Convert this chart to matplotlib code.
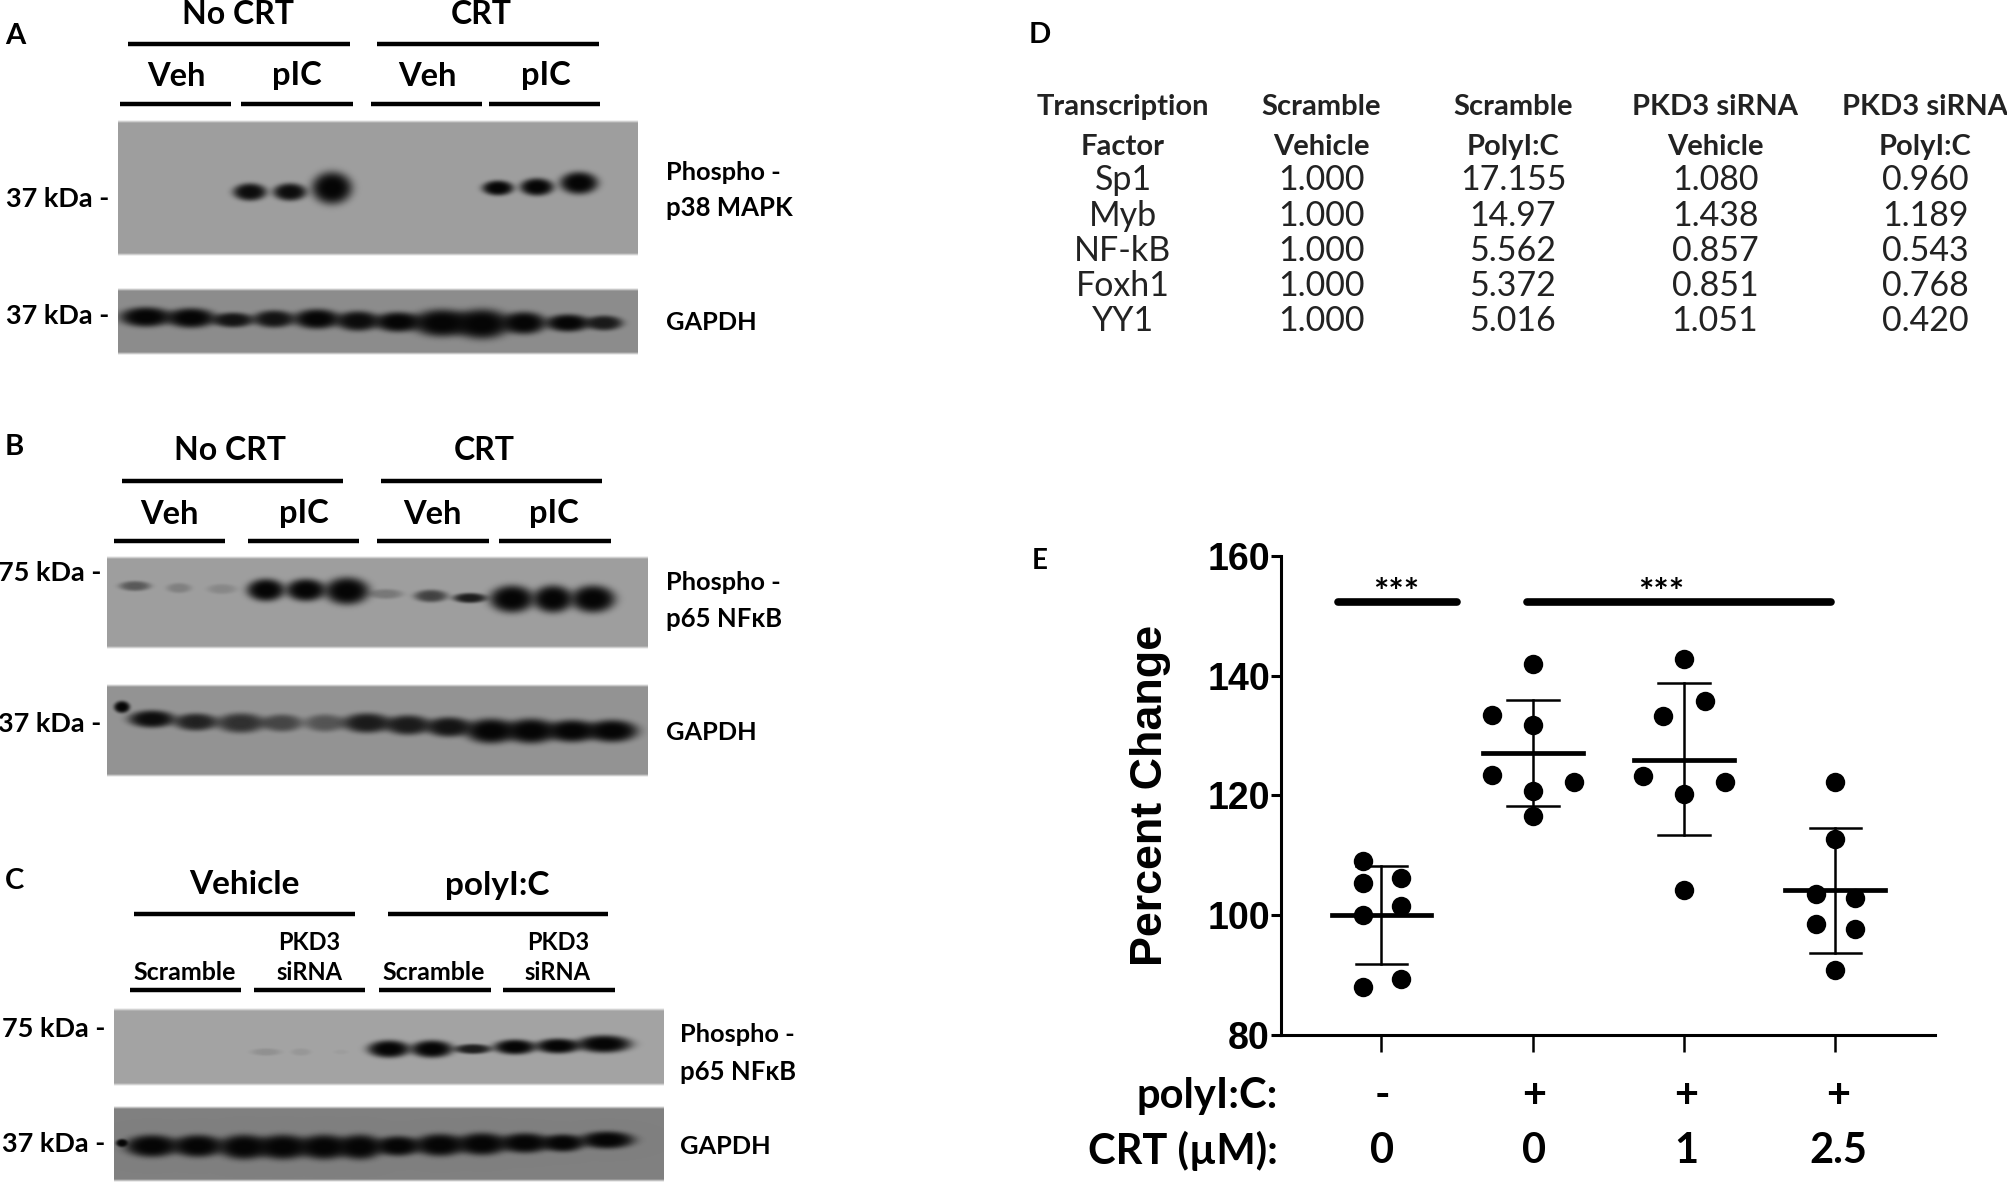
import numpy as np
import matplotlib
matplotlib.use("Agg")
import matplotlib.pyplot as plt

# Band strength per lane (0 = no band, 1 = saturated)
a_p38 = [0.95, 0.95, 1, 1, 1, 1]
a_gapdh = [1, 1, 0.9, 0.9, 1, 0.95, 1, 1, 1, 1, 1, 0.85]
b_p65 = [0.45, 0.2, 0.15, 1, 1, 1, 0.25, 0.6, 0.85, 1, 1, 1]
b_gapdh = [0.95, 0.8, 0.7, 0.55, 0.45, 0.85, 0.85, 0.9, 1, 1, 1, 1]
c_p65 = [0.12, 0.08, 0.04, 1, 1, 0.85, 1, 1, 1]
c_gapdh = [1, 1, 1, 1, 1, 1, 1, 1, 1, 1, 1, 1]

# Table in panel D
table_head1 = ["Transcription", "Scramble", "Scramble", "PKD3 siRNA", "PKD3 siRNA"]
table_head2 = ["Factor", "Vehicle", "PolyI:C", "Vehicle", "PolyI:C"]
factors = ["Sp1", "Myb", "NF-kB", "Foxh1", "YY1"]
scr_veh = ["1.000", "1.000", "1.000", "1.000", "1.000"]
scr_pic = ["17.155", "14.97", "5.562", "5.372", "5.016"]
pkd_veh = ["1.080", "1.438", "0.857", "0.851", "1.051"]
pkd_pic = ["0.960", "1.189", "0.543", "0.768", "0.420"]

# Scatter in panel E
g0_vals = [109, 105.4, 106.3, 101.6, 100, 89.4, 88]
g1_vals = [141.9, 133.4, 131.7, 123.5, 122.3, 120.7, 116.6]
g2_vals = [142.8, 135.8, 133.2, 123.3, 122.3, 120.3, 104.2]
g3_vals = [122.3, 112.7, 103.6, 102.9, 98.6, 97.7, 90.8]
means = [100, 127.1, 126, 104.2]
err_hi = [108.2, 136, 138.8, 114.6]
err_lo = [91.8, 118.3, 113.4, 93.7]
polyic_labels = ["-", "+", "+", "+"]
crt_labels = ["0", "0", "1", "2.5"]

# Sideways spread of the dots in each group
g0_off = [-0.12, -0.12, 0.13, 0.13, -0.12, 0.13, -0.12]
g1_off = [0, -0.27, 0, -0.27, 0.27, 0, 0]
g2_off = [0, 0.137, -0.137, -0.27, 0.27, 0, 0]
g3_off = [0, 0, -0.13, 0.13, -0.13, 0.13, 0]

W, H = 2008, 1184
TXT = ["Lato", "DejaVu Sans"]
ARIAL = ["Liberation Sans", "DejaVu Sans"]

fig = plt.figure(figsize=(W / 100, H / 100), dpi=100)
page = fig.add_axes([0, 0, 1, 1])
page.set_xlim(0, W)
page.set_ylim(H, 0)
page.axis("off")


def label(x, y, s, size=21, ha="center", weight="bold", family=TXT, color="black"):
    page.text(x, y + 2, s, fontsize=size, ha=ha, va="center", fontweight=weight,
              family=family, color=color)


def rule(x0, x1, y, lw=3.2):
    page.plot([x0, x1], [y, y], color="black", lw=lw, solid_capstyle="butt")


def blot(x0, x1, y0, y1, bg, strength, cx, cy, hw, hh, spot=None, wide=1.12):
    # Film strip drawn as an image, soft bands on a flat grey
    xx, yy = np.meshgrid(np.arange(x0, x1) + 0.5, np.arange(y0, y1) + 0.5)
    clear = np.ones_like(xx)
    for s, a, b, w, h in zip(strength, cx, cy, hw, hh):
        r = ((xx - a) / (w * wide)) ** 2 + ((yy - b) / (h * 1.25)) ** 2
        clear *= 1 - s * np.exp(-r ** 2)
    if spot:
        r = ((xx - spot[0]) / spot[2]) ** 2 + ((yy - spot[1]) / spot[3]) ** 2
        clear *= 1 - np.exp(-r ** 2)
    img = 0.02 + (bg - 0.02) * clear
    # the strips fade to white along the top and bottom edges
    edge = np.minimum(yy - y0, y1 - yy) / 3.0
    img = img + (1 - img) * (1 - np.clip(edge, 0, 1))
    page.imshow(img, extent=[x0, x1, y1, y0], cmap="gray", vmin=0, vmax=1,
                aspect="auto", interpolation="bilinear", zorder=1)


# Panel A
label(5, 34, "A", 21, ha="left")
label(238, 12, "No CRT", 23)
label(481, 12, "CRT", 23)
rule(128, 350, 44)
rule(377, 599, 44)
for x, s in zip([176, 297, 427, 546], ["Veh", "pIC", "Veh", "pIC"]):
    label(x, 74, s, 23.5)
for x0, x1 in [(120, 231), (241, 353), (371, 482), (489, 600)]:
    rule(x0, x1, 104)
blot(118, 638, 120, 256, 0.62, a_p38,
     [250, 290, 332, 498, 537, 579], [192, 192, 188, 188, 187, 183],
     [15, 15, 18, 14, 15, 17], [7, 7, 13, 6, 7, 9])
blot(118, 638, 288, 355, 0.55, a_gapdh,
     [146, 191, 233, 274, 317, 358, 398, 442, 482, 524, 568, 604],
     [317, 318, 320, 319, 319, 321, 322, 323, 324, 323, 323, 323],
     [21, 20, 17, 17, 19, 18, 19, 24, 23, 18, 18, 15],
     [8, 8, 6, 7, 8, 8, 8, 11, 12, 9, 7, 6], wide=1.25)
label(109, 197, "37 kDa -", 19.5, ha="right")
label(109, 314, "37 kDa -", 19.5, ha="right")
label(666, 171, "Phospho -", 18.3, ha="left")
label(666, 206, "p38 MAPK", 18.5, ha="left")
label(666, 321, "GAPDH", 18.3, ha="left")

# Panel B
label(5, 445, "B", 21, ha="left")
label(230, 449, "No CRT", 23)
label(484, 449, "CRT", 23)
rule(122, 343, 481)
rule(381, 602, 481)
for x, s in zip([169, 304, 432, 554], ["Veh", "pIC", "Veh", "pIC"]):
    label(x, 512, s, 23.5)
for x0, x1 in [(114, 225), (248, 359), (377, 489), (499, 611)]:
    rule(x0, x1, 541)
blot(107, 648, 556, 649, 0.62, b_p65,
     [135, 179, 222, 266, 306, 347, 386, 431, 470, 512, 553, 593],
     [586, 588, 589, 590, 590, 591, 594, 596, 598, 599, 599, 599],
     [14, 11, 13, 17, 18, 20, 15, 15, 15, 20, 18, 20],
     [4, 4, 4, 9, 9, 11, 4, 5, 4, 11, 11, 11])
blot(107, 648, 684, 777, 0.58, b_gapdh,
     [152, 196, 241, 282, 325, 367, 408, 449, 491, 531, 572, 612],
     [719, 722, 723, 723, 723, 723, 725, 727, 731, 731, 731, 731],
     [18, 17, 19, 16, 16, 19, 18, 18, 20, 20, 20, 20],
     [7, 7, 8, 7, 7, 8, 8, 8, 10, 10, 9, 9], spot=(122, 707, 8, 6), wide=1.3)
label(101, 571, "75 kDa -", 19.5, ha="right")
label(101, 722, "37 kDa -", 19.5, ha="right")
label(666, 581, "Phospho -", 18.3, ha="left")
label(666, 617, "p65 NFκB", 18.5, ha="left")
label(666, 731, "GAPDH", 18.3, ha="left")

# Panel C
label(5, 879, "C", 21, ha="left")
label(244, 882, "Vehicle", 24)
label(497, 884, "polyI:C", 24)
rule(134, 355, 914)
rule(388, 608, 914)
label(309, 940, "PKD3", 17)
label(558, 940, "PKD3", 17)
for x, s, fs in zip([185, 309, 434, 557], ["Scramble", "siRNA", "Scramble", "siRNA"], [18, 17, 18, 17]):
    label(x, 971, s, fs)
for x0, x1 in [(130, 241), (254, 365), (379, 491), (503, 615)]:
    rule(x0, x1, 990)
blot(114, 664, 1008, 1086, 0.64, c_p65,
     [266, 301, 341, 389, 432, 473, 515, 558, 604],
     [1052, 1052, 1052, 1049, 1049, 1049, 1047, 1046, 1044],
     [12, 8, 6, 17, 17, 15, 17, 18, 22], [3, 3, 2, 7, 7, 4, 6, 6, 7], wide=1.25)
blot(114, 664, 1106, 1182, 0.50, c_gapdh,
     [152, 198, 244, 283, 324, 360, 398, 440, 482, 525, 563, 607],
     [1146, 1146, 1147, 1147, 1147, 1147, 1146, 1145, 1144, 1143, 1143, 1140],
     [21, 20, 20, 21, 20, 18, 18, 20, 20, 20, 17, 21],
     [9, 9, 10, 10, 10, 10, 8, 9, 9, 8, 7, 7], spot=(122, 1143, 6, 4), wide=1.3)
label(105, 1027, "75 kDa -", 19.5, ha="right")
label(105, 1142, "37 kDa -", 19.5, ha="right")
label(680, 1032, "Phospho -", 18.3, ha="left")
label(680, 1070, "p65 NFκB", 18.5, ha="left")
label(680, 1144, "GAPDH", 18.3, ha="left")

page.set_xlim(0, W)
page.set_ylim(H, 0)

# Panel D
label(1029, 33, "D", 21, ha="left")
col_x = [1123, 1321, 1513, 1715, 1925]
row_y = [178, 214, 249, 284, 319]
tint = "#222222"
columns = [factors, scr_veh, scr_pic, pkd_veh, pkd_pic]
for x, h1, h2, col in zip(col_x, table_head1, table_head2, columns):
    label(x, 105, h1, 21, color=tint)
    label(x, 145, h2, 21, color=tint)
    for y, s in zip(row_y, col):
        label(x, y, s, 24.5, weight="normal", color=tint)

# Panel E
label(1032, 559, "E", 20, ha="left")
ax = fig.add_axes([1281 / W, 1 - 1035 / H, (1935 - 1281) / W, (1035 - 556) / H])
ax.patch.set_alpha(0)
ax.set_xlim(-0.664, 3.658)
ax.set_ylim(80, 160)
ax.spines["top"].set_visible(False)
ax.spines["right"].set_visible(False)
ax.spines["left"].set_linewidth(2.2)
ax.spines["bottom"].set_linewidth(2.2)
ax.set_xticks(range(4))
ax.set_xticklabels([])
ax.set_yticks([80, 100, 120, 140, 160])
ax.set_yticklabels(["80", "100", "120", "140", "160"], fontsize=27,
                   fontweight="bold", family=ARIAL)
ax.tick_params(axis="x", length=12, width=1.8)
ax.tick_params(axis="y", length=7, width=2.2, pad=1)
ax.set_ylabel("Percent Change", fontsize=32.3, fontweight="bold", family=ARIAL, labelpad=26)

groups = [g0_vals, g1_vals, g2_vals, g3_vals]
offsets = [g0_off, g1_off, g2_off, g3_off]
for i, (vals, off) in enumerate(zip(groups, offsets)):
    ax.plot(i + np.array(off), vals, "o", color="black", ms=14, mew=0, zorder=3)
    ax.plot([i - 0.33, i + 0.33], [means[i], means[i]], color="black", lw=3.4, zorder=4)
    ax.plot([i, i], [err_lo[i], err_hi[i]], color="black", lw=1.8, zorder=2)
    for e in (err_lo[i], err_hi[i]):
        ax.plot([i - 0.17, i + 0.17], [e, e], color="black", lw=1.8, zorder=2)

# significance bars
ax.plot([-0.29, 0.5], [152.3, 152.3], color="black", lw=5.5, solid_capstyle="round")
ax.plot([0.96, 2.97], [152.3, 152.3], color="black", lw=5.5, solid_capstyle="round")
ax.text(0.1, 153.8, "***", fontsize=26, ha="center", va="center", fontweight="bold", family=TXT)
ax.text(1.85, 153.8, "***", fontsize=26, ha="center", va="center", fontweight="bold", family=TXT)

label(1278, 1094, "polyI:C:", 30, ha="right")
label(1278, 1149, "CRT (µM):", 30, ha="right")
for x, a, b in zip([1382, 1534, 1686, 1838], polyic_labels, crt_labels):
    label(x, 1094, a, 30)
    label(x, 1149, b, 30)

fig.savefig("out.png", dpi=100)
